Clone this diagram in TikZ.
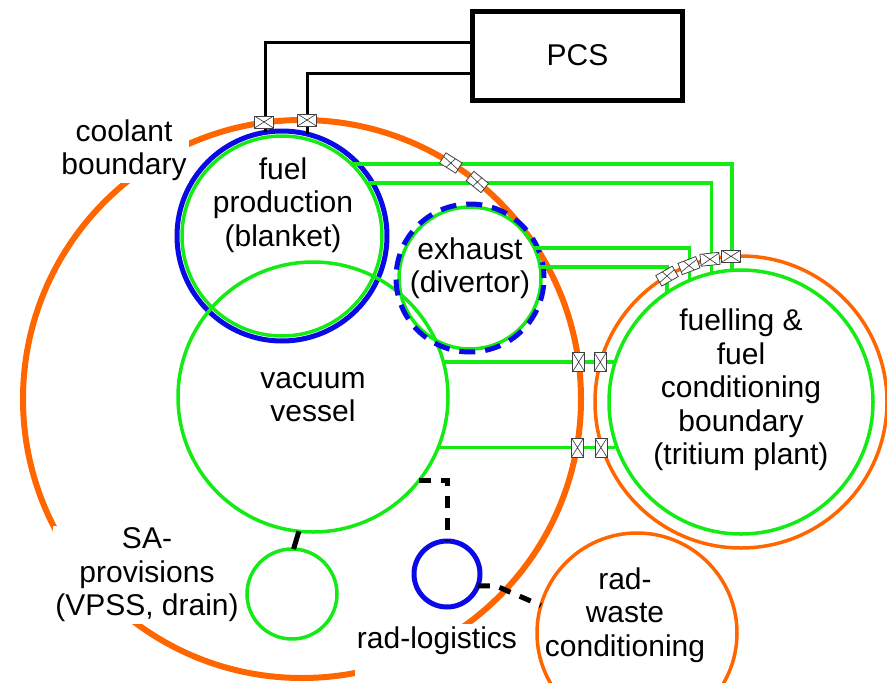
\documentclass[tikz,border=0pt]{standalone}
\usepackage{fontspec}
\setmainfont{Liberation Sans}
\definecolor{corange}{RGB}{255,102,0}
\definecolor{cgreen}{RGB}{20,235,20}
\definecolor{cblue}{RGB}{10,10,230}
\begin{document}
\begin{tikzpicture}[x=1pt,y=-1pt,
  ring/.style={circle, draw, inner sep=0pt, outer sep=0pt, minimum size=#1},
  lbl/.style={align=center, font=\fontsize{30}{33.5}\selectfont, inner sep=2pt},
  gline/.style={draw=cgreen, line width=3.5pt},
  pline/.style={draw=black, line width=3pt},
  dline/.style={draw=black, line width=5pt, dash pattern=on 12pt off 10pt},
  sline/.style={draw=black, line width=5pt},
  valve/.style={draw=black!75, fill=white, line width=0.8pt, minimum width=19pt,
    minimum height=12pt, inner sep=0pt, outer sep=0pt,
    path picture={\draw[black!80, line width=0.6pt]
      (path picture bounding box.south west) -- (path picture bounding box.north east)
      (path picture bounding box.north west) -- (path picture bounding box.south east);}}]
\useasboundingbox (0,0) rectangle (887,683);
\clip (0,0) rectangle (887,683);

% boundaries and systems
\node[ring=558pt, draw=corange, line width=6pt] (cool) at (302,399) {};
\node[ring=210pt, draw=cblue, line width=5pt] (blb) at (282,236) {};
\node[ring=200pt, draw=cgreen, line width=3.5pt] (bl) at (282,236) {};
\node[ring=270pt, draw=cgreen, line width=3.5pt] (vv) at (313,397) {};
\node[ring=142pt, draw=cgreen, line width=3.5pt] (ex) at (470,278) {};
\node[ring=148pt, draw=cblue, line width=5pt, dash pattern=on 16pt off 10pt] (exb) at (470,278) {};
\node[ring=90pt, draw=cgreen, line width=3.5pt] (sa) at (292,594) {};
\node[ring=66pt, draw=cblue, line width=5pt] (rl) at (447,574) {};
\node[ring=200pt, draw=corange, line width=3.5pt] (rw) at (637,633) {};
\node[ring=292pt, draw=corange, line width=3.5pt] (tpo) at (741,402) {};
\node[ring=264pt, draw=cgreen, line width=3.5pt] (tpg) at (741,402) {};

% PCS
\node[draw=black, line width=5pt, minimum width=210pt, minimum height=89pt,
  inner sep=0pt, outer sep=0pt, font=\fontsize{30}{33.5}\selectfont] (pcs) at (577.5,55.5) {PCS};
\draw[pline] ([yshift=13.5pt]pcs.west) -| (blb.99.9);
\draw[pline] ([yshift=-17.5pt]pcs.west) -| (blb.76.2);

% green process lines
\draw[gline] (bl.46.9) -| (tpg.94.3);
\draw[gline] (bl.32.7) -| (tpg.103.6);
\draw[gline] (ex.25) -| (tpg.113.2);
\draw[gline] (ex.9.7) -| (tpg.124.1);
\draw[gline] (vv.15.5) -- (tpg.162.8 |- vv.15.5);
\draw[gline] (vv.-22) -- (tpg.198.1 |- vv.-22);

% black connectors
\draw[dline] (vv.-38) -| (rl.north);
\draw[dline] (rl.-21.3) -- ++(18,0) -- (rw.164.7);
\draw[sline] (vv.-96) -- (sa.88);

% valves
\node[valve] (p1) at (264,122) {};
\node[valve] (p2) at (307,120) {};
\node[valve, rotate=-32] (c1) at (450.8,163) {};
\node[valve, rotate=-39] (c2) at (477.4,182) {};
\node[valve, rotate=90] (c3) at (vv.15.5 -| 578.7,0) {};
\node[valve, rotate=90] (c4) at (vv.-22 -| 577.5,0) {};
\node[valve, rotate=90] (t3) at (vv.15.5 -| 600.3,0) {};
\node[valve, rotate=90] (t4) at (vv.-22 -| 600.9,0) {};
\node[valve] (t1) at (731,256.3) {};
\node[valve, rotate=6] (t2) at (710,259.3) {};
\node[valve, rotate=21] (t5) at (689,265.6) {};
\node[valve, rotate=30] (t6) at (667,276.1) {};

% labels
\node[lbl, fill=white] (lcool) at (124,150) {coolant\\boundary};
\node[lbl] (lbl1) at (283,205) {fuel\\production\\(blanket)};
\node[lbl] (lex) at (470,268) {exhaust\\(divertor)};
\node[lbl] (lvv) at (313,397) {vacuum\\vessel};
\node[lbl] (ltp) at (741,390) {fuelling \&\\fuel\\conditioning\\boundary\\(tritium plant)};
\node[lbl, fill=white] (lsa) at (147,575) {SA-\\provisions\\(VPSS, drain)};
\node[lbl, fill=white, anchor=base, text depth=28pt] (lrl) at (437,648) {rad-logistics};
\node[lbl] (lrw) at (625,615) {rad-\\waste\\conditioning};
\end{tikzpicture}
\end{document}
